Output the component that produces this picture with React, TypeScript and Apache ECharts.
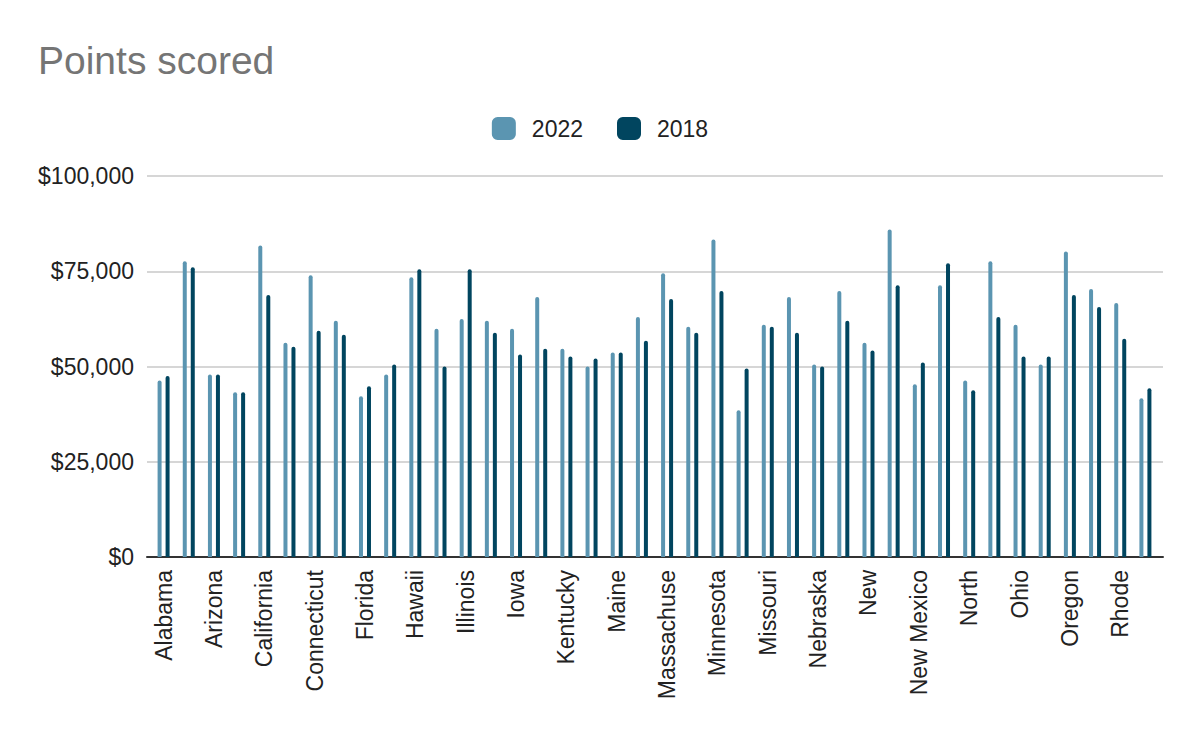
import React, { useEffect, useRef } from "react";
import * as echarts from "echarts";

const states = [
  "Alabama", "Alaska", "Arizona", "Arkansas", "California", "Colorado", "Connecticut", "Delaware",
  "Florida", "Georgia", "Hawaii", "Idaho", "Illinois", "Indiana", "Iowa", "Kansas", "Kentucky",
  "Louisiana", "Maine", "Maryland", "Massachusetts", "Michigan", "Minnesota", "Mississippi",
  "Missouri", "Montana", "Nebraska", "Nevada", "New Hampshire", "New Jersey", "New Mexico",
  "New York", "North Carolina", "North Dakota", "Ohio", "Oklahoma", "Oregon", "Pennsylvania",
  "Rhode Island", "South Carolina",
];

// Labels as clipped in the reference
const shortLabels: Record<string, string> = {
  "Massachusetts": "Massachuse",
  "New Hampshire": "New",
  "North Carolina": "North",
  "Rhode Island": "Rhode",
};

const values2022 = [
  46350, 77600, 47920, 43230, 81770, 56250, 73960, 61980, 42190, 47920,
  73440, 59900, 62500, 61980, 59900, 68230, 54690, 50000, 53650, 63020,
  74480, 60420, 83330, 38540, 60940, 68230, 50520, 69790, 56250, 85940,
  45310, 71350, 46350, 77600, 60940, 50520, 80210, 70310, 66670, 41670,
];

const values2018 = [
  47480, 76040, 47920, 43230, 68750, 55210, 59380, 58330, 44790, 50520,
  75520, 50000, 75520, 58850, 53130, 54690, 52600, 52080, 53650, 56770,
  67710, 58850, 69790, 49480, 60420, 58850, 50000, 61980, 54170, 71350,
  51040, 77080, 43750, 63020, 52600, 52600, 68750, 65630, 57290, 44270,
];

const yMin = 0;
const yMax = 100000;
const yStep = 25000;

const FONT = "Arial, 'Liberation Sans', sans-serif";

export default function App() {
  const ref = useRef<HTMLDivElement>(null);

  useEffect(() => {
    document.body.style.margin = "0";
    if (!ref.current) return;
    const chart = echarts.init(ref.current, undefined, { renderer: "svg" });
    chart.setOption({
      animation: false,
      backgroundColor: "#ffffff",
      textStyle: { fontFamily: FONT },
      title: {
        text: "Points scored",
        left: 33,
        top: 36,
        textStyle: { fontFamily: FONT, fontSize: 39, fontWeight: "normal", color: "#757575" },
      },
      legend: {
        top: 112,
        left: "center",
        icon: "roundRect",
        itemWidth: 24,
        itemHeight: 23,
        itemGap: 34,
        textStyle: { fontFamily: FONT, fontSize: 23, color: "#222222", padding: [0, 0, 0, 11] },
        data: ["2022", "2018"],
      },
      grid: [
        { left: 147, right: 37, top: 176, bottom: 185, containLabel: false },
        { left: 151, right: 42, top: 176, bottom: 185, containLabel: false },
      ],
      xAxis: [
        {
          type: "value",
          gridIndex: 0,
          min: 0,
          max: 1,
          axisLabel: { show: false },
          axisTick: { show: false },
          splitLine: { show: false },
          axisLine: { show: true, onZero: false, lineStyle: { color: "#333333", width: 2 } },
        },
        {
          type: "category",
          gridIndex: 1,
          data: states,
          axisLine: { show: false },
          axisTick: { show: false },
          axisLabel: {
            interval: 1,
            rotate: 90,
            margin: 13,
            fontFamily: FONT,
            fontSize: 23,
            color: "#222222",
            formatter: (v: string) => shortLabels[v] ?? v,
          },
        },
      ],
      yAxis: [
        {
          type: "value",
          gridIndex: 0,
          min: yMin,
          max: yMax,
          interval: yStep,
          axisLine: { show: false },
          axisTick: { show: false },
          axisLabel: {
            margin: 13,
            fontFamily: FONT,
            fontSize: 23,
            color: "#222222",
            formatter: (v: number) => "$" + v.toLocaleString("en-US"),
          },
          splitLine: { show: true, lineStyle: { color: "#c8c8c8", width: 1.5 } },
        },
        {
          type: "value",
          gridIndex: 1,
          min: yMin,
          max: yMax,
          interval: yStep,
          show: false,
          splitLine: { show: false },
        },
      ],
      series: [
        {
          name: "2022",
          type: "bar",
          xAxisIndex: 1,
          yAxisIndex: 1,
          data: values2022,
          barWidth: 4,
          barGap: "100%",
          itemStyle: { color: "#5b95b1", borderRadius: [2, 2, 0, 0] },
          z: 1,
        },
        {
          name: "2018",
          type: "bar",
          xAxisIndex: 1,
          yAxisIndex: 1,
          data: values2018,
          barWidth: 4,
          barGap: "100%",
          itemStyle: { color: "#01455f", borderRadius: [2, 2, 0, 0] },
          z: 1,
        },
      ],
    });
    return () => chart.dispose();
  }, []);

  return <div ref={ref} style={{ width: 1200, height: 742 }} />;
}
